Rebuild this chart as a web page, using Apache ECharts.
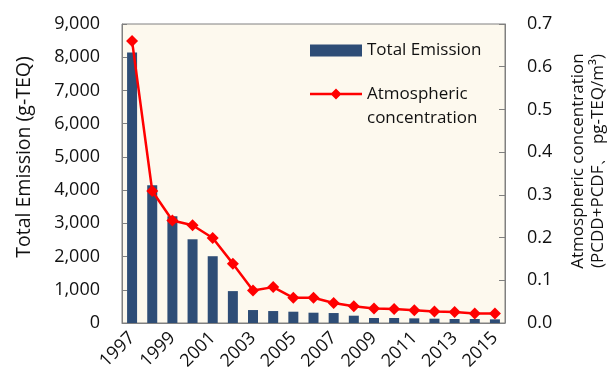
<!DOCTYPE html>
<html>
<head>
<meta charset="utf-8">
<script src="https://cdn.jsdelivr.net/npm/echarts@6/dist/echarts.min.js"></script>
<style>
  html, body { margin: 0; padding: 0; background: #ffffff; }
  #chart { width: 609px; height: 385px; }
</style>
</head>
<body>
<div id="chart"></div>
<script>
// Years on the category axis
const years = ['1997','1998','1999','2000','2001','2002','2003','2004','2005','2006',
               '2007','2008','2009','2010','2011','2012','2013','2014','2015'];
// Total dioxin emission, g-TEQ
const totalEmission = [8140, 4150, 3210, 2520, 2010, 960, 390, 360, 340, 310,
                       300, 220, 150, 150, 140, 130, 120, 120, 110];
// Atmospheric concentration, pg-TEQ/m3
const atmConcentration = [0.660, 0.309, 0.240, 0.229, 0.199, 0.139, 0.076, 0.084, 0.059, 0.059,
                          0.047, 0.039, 0.034, 0.033, 0.030, 0.027, 0.026, 0.022, 0.022];

const FONT = '"Open Sans", "Noto Sans", sans-serif';
const chart = echarts.init(document.getElementById('chart'), null, { renderer: 'canvas' });

// Legend icon for the line series: line with a diamond, placed level with the
// first of the two text lines (the empty moves pad the box to 48 px tall).
const lineLegendIcon = 'path://M0,0 M52,48 ' +
  'M0,10.8 L52,10.8 L52,13.2 L0,13.2 Z ' +
  'M26,6.5 L31.5,12 L26,17.5 L20.5,12 Z';

chart.setOption({
  animation: false,
  grid: {
    left: 122, top: 24, right: 104, bottom: 62,
    show: true, backgroundColor: '#FDF9EE', borderColor: '#808080', borderWidth: 1
  },
  legend: [
    {
      data: [{ name: 'Total Emission', icon: 'rect' }],
      left: 305, top: 37, itemWidth: 52, itemHeight: 12, itemGap: 0,
      textStyle: { fontFamily: FONT, fontSize: 17, color: '#111' }
    },
    {
      data: [{ name: 'Atmospheric concentration', icon: lineLegendIcon }],
      left: 305, top: 77, itemWidth: 52, itemHeight: 48,
      formatter: () => 'Atmospheric\nconcentration',
      textStyle: { fontFamily: FONT, fontSize: 17, color: '#111', lineHeight: 24 }
    }
  ],
  xAxis: {
    type: 'category',
    data: years,
    boundaryGap: true,
    axisLine: { lineStyle: { color: '#808080' } },
    axisTick: { inside: true, length: 7, alignWithLabel: false, interval: 0, lineStyle: { color: '#808080' } },
    axisLabel: { interval: 1, rotate: 45, margin: 12, fontFamily: FONT, fontSize: 18, color: '#111' }
  },
  yAxis: [
    {
      type: 'value', min: 0, max: 9000, interval: 1000,
      splitLine: { show: false },
      axisLine: { show: true, lineStyle: { color: '#808080' } },
      axisTick: { show: true, inside: true, length: 5, lineStyle: { color: '#808080' } },
      axisLabel: {
        margin: 22, fontFamily: FONT, fontSize: 18, color: '#111',
        formatter: v => v.toLocaleString('en-US')
      }
    },
    {
      type: 'value', min: 0, max: 0.7, interval: 0.1,
      splitLine: { show: false },
      axisLine: { show: true, lineStyle: { color: '#808080' } },
      axisTick: { show: true, inside: true, length: 6, lineStyle: { color: '#808080' } },
      axisLabel: {
        margin: 22, fontFamily: FONT, fontSize: 18, color: '#111',
        formatter: v => v.toFixed(1)
      }
    }
  ],
  graphic: [
    {
      type: 'text', x: 24, y: 157, rotation: Math.PI / 2,
      style: {
        text: 'Total Emission (g-TEQ)', fontFamily: FONT, fontSize: 19.5, fill: '#111',
        align: 'center', verticalAlign: 'middle'
      }
    },
    {
      type: 'text', x: 588, y: 161, rotation: Math.PI / 2,
      style: {
        text: 'Atmospheric concentration\n(PCDD+PCDF、 pg-TEQ/m³)', fontFamily: FONT, fontSize: 17, fill: '#111',
        align: 'center', verticalAlign: 'middle', lineHeight: 20
      }
    }
  ],
  series: [
    {
      name: 'Total Emission',
      type: 'bar',
      yAxisIndex: 0,
      data: totalEmission,
      barWidth: 10,
      itemStyle: { color: '#2E4D76' }
    },
    {
      name: 'Atmospheric concentration',
      type: 'line',
      yAxisIndex: 1,
      data: atmConcentration,
      symbol: 'diamond',
      symbolSize: 12,
      lineStyle: { color: '#FF0000', width: 2.5 },
      itemStyle: { color: '#FF0000' }
    }
  ]
});
</script>
</body>
</html>
